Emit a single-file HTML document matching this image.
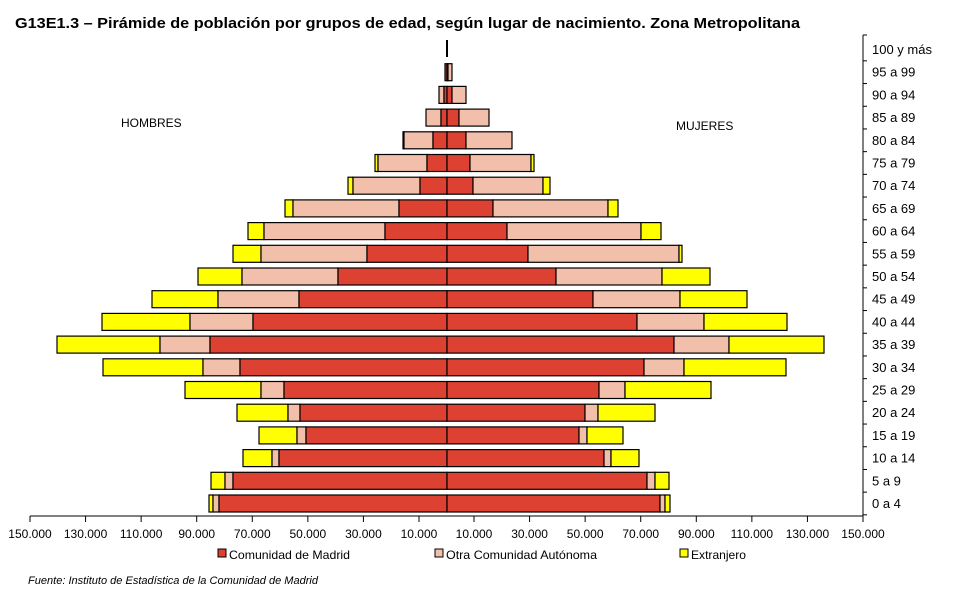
<!DOCTYPE html>
<html><head><meta charset="utf-8"><style>
html,body{margin:0;padding:0;background:#fff;width:976px;height:598px;overflow:hidden}
svg{display:block;font-family:"Liberation Sans",Arial,sans-serif}
</style></head><body>
<svg width="976" height="598" viewBox="0 0 976 598">
<text x="15" y="28" font-size="15" font-weight="bold" textLength="785" lengthAdjust="spacingAndGlyphs">G13E1.3 – Pirámide de población por grupos de edad, según lugar de nacimiento.  Zona Metropolitana</text>
<text x="121" y="127" font-size="12">HOMBRES</text>
<text x="676" y="130" font-size="12">MUJERES</text>
<g id="bars" stroke="#000" stroke-width="1.2"></g>
<line x1="447" y1="40" x2="447" y2="57" stroke="#000" stroke-width="2"/>
<g stroke="#000" stroke-width="1">
<line x1="30" y1="516" x2="863" y2="516"/>
<line x1="863" y1="35" x2="863" y2="516"/>
</g>
<g id="ticks" stroke="#000" stroke-width="1"></g>
<g id="lbl" font-size="12"></g>
<g font-size="12">
<rect x="218" y="549" width="8" height="8" fill="#dc4132" stroke="#000"/><text x="229" y="559" textLength="121" lengthAdjust="spacingAndGlyphs">Comunidad de Madrid</text>
<rect x="435" y="549" width="8" height="8" fill="#f2bfaa" stroke="#000"/><text x="446" y="559" textLength="151" lengthAdjust="spacingAndGlyphs">Otra Comunidad Autónoma</text>
<rect x="680" y="549" width="8" height="8" fill="#ffff00" stroke="#000"/><text x="691" y="559" textLength="55" lengthAdjust="spacingAndGlyphs">Extranjero</text>
</g>
<text x="28" y="584" font-size="11" font-style="italic" textLength="290" lengthAdjust="spacingAndGlyphs">Fuente: Instituto de Estadística de la Comunidad de Madrid</text>
</svg>
<script>
var C=447,R="#dc4132",P="#f2bfaa",Y="#ffff00";
var d=[
[209,213,219,660,665,670],[211,225,233,647,655,669],[243,272,279,604,611,639],[259,297,306,579,587,623],
[237,288,300,585,598,655],[185,261,284,599,625,711],[103,203,240,644,684,786],[57,160,210,674,729,824],
[102,190,253,637,704,787],[152,218,299,593,680,747],[198,242,338,556,662,710],[233,261,367,528,679,682],
[248,264,385,507,641,661],[285,293,399,493,608,618],[348,353,420,473,543,550],[375,378,427,470,531,534],
[403,404,433,466,512,512],[426,426,441,459,489,489],[439,439,444,452,466,466],[445,445,445,448,452,452]];
var s="";
function r(x1,x2,y,f){if(x2-x1<0.5)return "";return '<rect x="'+x1+'" y="'+y+'" width="'+(x2-x1)+'" height="17" fill="'+f+'"/>';}
d.forEach(function(a,i){var y=495-i*22.7;
s+=r(a[0],a[1],y,Y)+r(a[1],a[2],y,P)+r(a[2],C,y,R)+r(C,a[3],y,R)+r(a[3],a[4],y,P)+r(a[4],a[5],y,Y);});
document.getElementById("bars").innerHTML=s;
var t="",l="";
for(var k=0;k<8;k++){var v=(150-20*k)+".000",xl=30+k*55.57,xr=863-k*55.57;
t+='<line x1="'+xl+'" y1="516" x2="'+xl+'" y2="522"/><line x1="'+xr+'" y1="516" x2="'+xr+'" y2="522"/>';
l+='<text x="'+xl+'" y="538" text-anchor="middle">'+v+'</text><text x="'+xr+'" y="538" text-anchor="middle">'+v+'</text>';}
var labs=["0 a 4","5 a 9","10 a 14","15 a 19","20 a 24","25 a 29","30 a 34","35 a 39","40 a 44","45 a 49","50 a 54","55 a 59","60 a 64","65 a 69","70 a 74","75 a 79","80 a 84","85 a 89","90 a 94","95 a 99","100 y más"];
for(var i=0;i<21;i++){var yc=503.5-i*22.7;l+='<text x="872" y="'+(yc+4.5)+'" font-size="13">'+labs[i]+'</text>';
var yt=yc+11.35;t+='<line x1="863" y1="'+yt+'" x2="867" y2="'+yt+'"/>';}
t+='<line x1="863" y1="35" x2="867" y2="35"/>';
document.getElementById("ticks").innerHTML=t;document.getElementById("lbl").innerHTML=l;
</script>
</body></html>
